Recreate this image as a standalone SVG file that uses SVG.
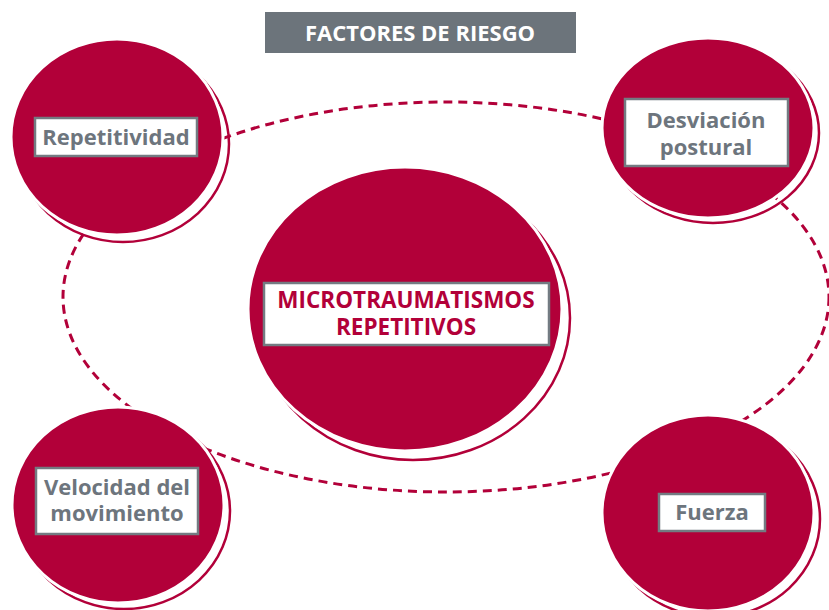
<svg xmlns="http://www.w3.org/2000/svg" width="829" height="610" viewBox="0 0 829 610">
<style>
.ring{fill:none;stroke:#b20039;stroke-width:2.5}
.disc{fill:#b20039;stroke:#fff;stroke-width:3}
.box{fill:#fff;stroke:#737b82;stroke-width:2.5}
.lbl{font-family:"Open Sans","Liberation Sans",sans-serif;font-weight:bold;font-size:22px;fill:#6d757d;text-anchor:middle}
.main{fill:#b20039;font-size:22.5px}
.dash{fill:none;stroke:#b20039;stroke-width:3;stroke-dasharray:9 6}
</style>
<g id="title">
<rect x="265" y="12" width="311" height="41" fill="#6c747b"/>
<text x="420" y="41" class="lbl" style="fill:#fff;font-size:22px">FACTORES DE RIESGO</text>
</g>
<g id="connectors">
<ellipse class="dash" cx="446" cy="297" rx="383" ry="195"/>
</g>
<g id="n-repetitividad">
<ellipse class="ring" cx="123" cy="144" rx="106" ry="98"/>
<ellipse class="disc" cx="117" cy="137" rx="106" ry="98"/>
<rect class="box" x="35" y="118" width="162" height="38"/>
<text class="lbl" x="116" y="145">Repetitividad</text>
</g>
<g id="n-desviacion">
<ellipse class="ring" cx="713" cy="133" rx="106" ry="90"/>
<ellipse class="disc" cx="708" cy="128" rx="106" ry="90"/>
<rect class="box" x="625" y="99" width="163" height="67"/>
<text class="lbl" x="706" y="128">Desviación</text>
<text class="lbl" x="706" y="155">postural</text>
</g>
<g id="n-micro">
<ellipse class="ring" cx="413" cy="318" rx="157" ry="142"/>
<ellipse class="disc" cx="405" cy="309" rx="157" ry="142"/>
<rect class="box" x="264" y="283" width="285" height="62"/>
<text class="lbl main" x="406" y="308">MICROTRAUMATISMOS</text>
<text class="lbl main" x="406" y="335">REPETITIVOS</text>
</g>
<g id="n-velocidad">
<ellipse class="ring" cx="124" cy="511" rx="106" ry="98"/>
<ellipse class="disc" cx="118" cy="505" rx="106" ry="98"/>
<rect class="box" x="36" y="468" width="162" height="66"/>
<text class="lbl" x="117" y="495">Velocidad del</text>
<text class="lbl" x="117" y="521">movimiento</text>
</g>
<g id="n-fuerza">
<ellipse class="ring" cx="714" cy="519" rx="106" ry="98"/>
<ellipse class="disc" cx="708" cy="513" rx="106" ry="98"/>
<rect class="box" x="659" y="494" width="106" height="37"/>
<text class="lbl" x="712" y="520">Fuerza</text>
</g>
</svg>
